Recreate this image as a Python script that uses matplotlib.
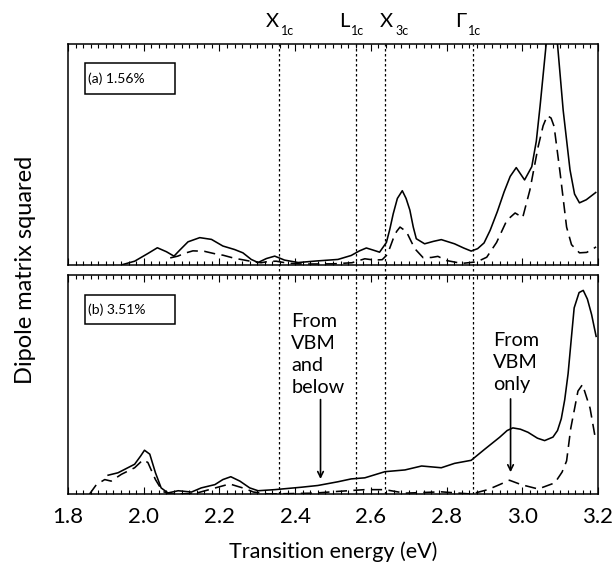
import numpy as np
import matplotlib
matplotlib.use('Agg')
import matplotlib.pyplot as plt
from matplotlib.ticker import MultipleLocator, FormatStrFormatter
from matplotlib.patches import Rectangle

plt.rcParams['font.family'] = ['Lato', 'DejaVu Sans']

# critical points (eV)
edges = [2.358, 2.561, 2.637, 2.869]
edge_main = ['X', 'L', 'X', 'Γ']
edge_sub = ['1c', '1c', '3c', '1c']
label_x = [2.358, 2.543, 2.659, 2.851]   # right edge of the main letter

# (a) 1.56% -- solid
ea_solid = [1.945, 1.976, 2.011, 2.036, 2.060, 2.080, 2.095, 2.117, 2.148, 2.179,
            2.209, 2.240, 2.262, 2.284, 2.302, 2.324, 2.346, 2.372, 2.408, 2.456,
            2.513, 2.548, 2.570, 2.588, 2.605, 2.623, 2.641, 2.650, 2.659, 2.670,
            2.683, 2.693, 2.703, 2.712, 2.720, 2.742, 2.765, 2.786, 2.821, 2.845,
            2.865, 2.882, 2.899, 2.915, 2.934, 2.952, 2.968, 2.984, 3.006, 3.025,
            3.037, 3.047, 3.063, 3.078, 3.093, 3.108, 3.126, 3.138, 3.151, 3.169,
            3.194]
ya_solid = [0.000, 0.015, 0.050, 0.076, 0.058, 0.038, 0.065, 0.103, 0.122, 0.114,
            0.084, 0.068, 0.053, 0.023, 0.009, 0.027, 0.038, 0.020, 0.009, 0.016,
            0.023, 0.041, 0.062, 0.075, 0.066, 0.056, 0.100, 0.160, 0.230, 0.300,
            0.335, 0.300, 0.247, 0.170, 0.117, 0.094, 0.105, 0.113, 0.094, 0.075,
            0.061, 0.072, 0.098, 0.155, 0.240, 0.330, 0.400, 0.440, 0.384, 0.444,
            0.560, 0.720, 1.000, 1.250, 1.000, 0.700, 0.430, 0.320, 0.280, 0.294,
            0.327]

# (a) 1.56% -- dashed
ea_dash = [2.070, 2.090, 2.110, 2.130, 2.160, 2.190, 2.210, 2.240, 2.260, 2.290,
           2.310, 2.330, 2.350, 2.380, 2.420, 2.500, 2.550, 2.584, 2.610, 2.630,
           2.641, 2.650, 2.659, 2.668, 2.677, 2.694, 2.705, 2.716, 2.738, 2.760,
           2.777, 2.800, 2.840, 2.880, 2.906, 2.932, 2.959, 2.981, 3.001, 3.020,
           3.042, 3.055, 3.066, 3.076, 3.084, 3.100, 3.117, 3.130, 3.151, 3.170,
           3.184, 3.195]
ya_dash = [0.030, 0.038, 0.052, 0.062, 0.060, 0.048, 0.042, 0.028, 0.022, 0.012,
           0.008, 0.014, 0.015, 0.006, 0.002, 0.003, 0.008, 0.026, 0.020, 0.022,
           0.041, 0.075, 0.117, 0.150, 0.170, 0.149, 0.110, 0.072, 0.031, 0.032,
           0.037, 0.018, 0.005, 0.012, 0.033, 0.100, 0.200, 0.234, 0.213, 0.338,
           0.536, 0.630, 0.676, 0.665, 0.627, 0.414, 0.170, 0.090, 0.053, 0.055,
           0.068, 0.080]

# (b) 3.51% -- solid
eb_solid = [1.906, 1.932, 1.958, 1.976, 1.992, 2.002, 2.016, 2.031, 2.046, 2.064,
            2.091, 2.126, 2.152, 2.188, 2.209, 2.230, 2.254, 2.280, 2.302, 2.346,
            2.416, 2.460, 2.513, 2.548, 2.584, 2.637, 2.690, 2.734, 2.786, 2.821,
            2.865, 2.901, 2.940, 2.960, 2.975, 2.995, 3.015, 3.040, 3.059, 3.081,
            3.093, 3.103, 3.112, 3.121, 3.130, 3.137, 3.150, 3.161, 3.172, 3.183,
            3.195]
yb_solid = [0.086, 0.097, 0.120, 0.136, 0.174, 0.200, 0.182, 0.097, 0.028, 0.005,
            0.015, 0.009, 0.028, 0.043, 0.066, 0.079, 0.059, 0.028, 0.015, 0.020,
            0.031, 0.039, 0.056, 0.069, 0.074, 0.102, 0.110, 0.128, 0.120, 0.140,
            0.154, 0.205, 0.259, 0.290, 0.302, 0.296, 0.282, 0.255, 0.244, 0.260,
            0.290, 0.344, 0.430, 0.550, 0.720, 0.850, 0.920, 0.930, 0.890, 0.820,
            0.720]

# (b) 3.51% -- dashed
eb_dash = [1.857, 1.875, 1.897, 1.914, 1.941, 1.976, 1.998, 2.011, 2.031, 2.050,
           2.070, 2.135, 2.179, 2.227, 2.267, 2.290, 2.330, 2.450, 2.513, 2.584,
           2.637, 2.690, 2.786, 2.865, 2.909, 2.940, 2.966, 2.997, 3.042, 3.086,
           3.105, 3.117, 3.128, 3.147, 3.159, 3.179, 3.193]
yb_dash = [0.000, 0.043, 0.066, 0.059, 0.090, 0.120, 0.156, 0.144, 0.066, 0.012,
           0.000, 0.002, 0.023, 0.046, 0.025, 0.009, 0.000, 0.004, 0.012, 0.020,
           0.020, 0.004, 0.010, 0.000, 0.020, 0.043, 0.063, 0.043, 0.023, 0.051,
           0.100, 0.151, 0.300, 0.470, 0.500, 0.392, 0.254]

fig = plt.figure(figsize=(6.16, 5.67), dpi=100)
axa = fig.add_axes([0.1104, 0.5335, 0.8604, 0.3884])
axb = fig.add_axes([0.1104, 0.1287, 0.8604, 0.3862])

for ax in (axa, axb):
    ax.set_xlim(1.8, 3.2)
    ax.set_ylim(0, 1)
    ax.xaxis.set_major_locator(MultipleLocator(0.2))
    ax.xaxis.set_minor_locator(MultipleLocator(0.02))
    ax.tick_params(axis='x', which='both', direction='in', top=True, bottom=True, width=0.8)
    ax.tick_params(axis='x', which='major', length=5)
    ax.tick_params(axis='x', which='minor', length=2.6)
    ax.set_yticks([])
    for s in ax.spines.values():
        s.set_linewidth(1.1)

for e in edges:
    axa.axvline(e, ymin=-0.05, ymax=1, color='k', lw=0.9, ls=(0, (2, 2)), clip_on=False)
    axb.axvline(e, color='k', lw=0.9, ls=(0, (2, 2)))

axa.plot(ea_solid, ya_solid, color='k', lw=1.15)
axa.plot(ea_dash, ya_dash, color='k', lw=1.15, dashes=(7, 4))
axb.plot(eb_solid, yb_solid, color='k', lw=1.15)
axb.plot(eb_dash, yb_dash, color='k', lw=1.15, dashes=(7, 4))

axa.tick_params(labelbottom=False)
axb.xaxis.set_major_formatter(FormatStrFormatter('%.1f'))
axb.tick_params(axis='x', labelsize=16, pad=9)

# critical point labels: big letter + small, lowered subscript
tr = axa.get_xaxis_transform()
for m, s, lx in zip(edge_main, edge_sub, label_x):
    axa.annotate(m, xy=(lx, 1.079), xycoords=tr, ha='right', va='baseline', fontsize=14.5,
                 annotation_clip=False)
    axa.annotate(s, xy=(lx, 1.079), xycoords=tr, xytext=(1.5, -6), textcoords='offset points',
                 ha='left', va='baseline', fontsize=9, annotation_clip=False)

# panel tags
axa.add_patch(Rectangle((0.032, 0.775), 0.170, 0.141, transform=axa.transAxes,
                        fill=False, lw=1.1, color='k'))
axa.text(0.038, 0.845, '(a) 1.56%', transform=axa.transAxes, va='center', fontsize=10)
axb.add_patch(Rectangle((0.032, 0.777), 0.170, 0.131, transform=axb.transAxes,
                        fill=False, lw=1.1, color='k'))
axb.text(0.038, 0.842, '(b) 3.51%', transform=axb.transAxes, va='center', fontsize=10)

# annotations
axb.text(2.390, 0.826, 'From\nVBM\nand\nbelow', va='top', ha='left',
         fontsize=14.3, linespacing=1.35)
axb.annotate('', xy=(2.467, 0.056), xytext=(2.467, 0.444),
             arrowprops=dict(arrowstyle='->', color='k', lw=1.2))
axb.text(2.922, 0.738, 'From\nVBM\nonly', va='top', ha='left',
         fontsize=14.3, linespacing=1.35)
axb.annotate('', xy=(2.969, 0.087), xytext=(2.969, 0.447),
             arrowprops=dict(arrowstyle='->', color='k', lw=1.2))

fig.text(0.5406, 0.0265, 'Transition energy (eV)', ha='center', va='center', fontsize=15.5)
fig.text(0.041, 0.524, 'Dipole matrix squared', rotation=90, ha='center', va='center',
         fontsize=17)

fig.savefig('out.png', dpi=100)
